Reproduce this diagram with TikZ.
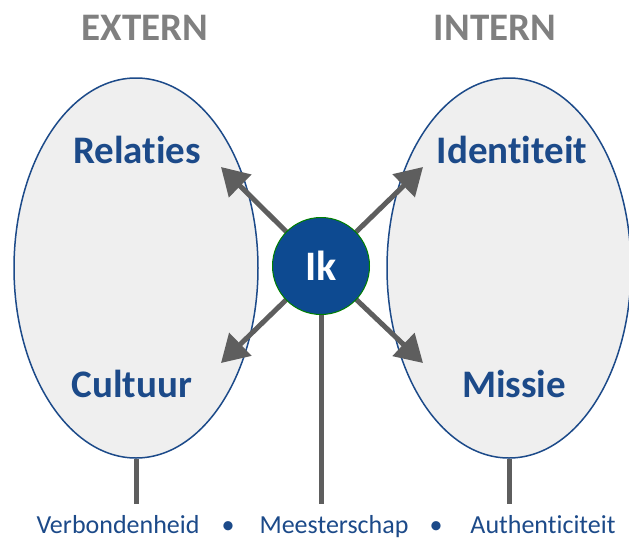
\documentclass[tikz,border=0pt]{standalone}
\usepackage{fontspec}
\setmainfont{Carlito}[Ligatures=NoCommon]
\usetikzlibrary{shapes.geometric, arrows.meta, positioning}

\definecolor{ikblue}{HTML}{0D4A91}
\definecolor{txtblue}{HTML}{1C4A89}
\definecolor{linegray}{HTML}{5E5E5E}
\definecolor{headgray}{HTML}{808080}
\definecolor{ovalfill}{HTML}{EFEFEF}

\begin{document}
\begin{tikzpicture}[
    x=1pt, y=-1pt,
    oval/.style={ellipse, draw=txtblue, fill=ovalfill, line width=1.5pt, minimum width=244pt, minimum height=380pt},
    heading/.style={anchor=base, font=\fontsize{39}{39}\selectfont\bfseries, text=headgray},
    label/.style={anchor=base, font=\fontsize{39}{39}\selectfont\bfseries, text=txtblue},
    value/.style={anchor=base, inner sep=0pt, font=\fontsize{26}{26}\selectfont, text=txtblue},
    stem/.style={draw=linegray, line width=5pt},
    pointer/.style={draw=linegray, line width=5pt, -{Triangle[length=27pt, width=31pt]}}
]
\useasboundingbox (0,0) rectangle (629,541);

% Headings
\node[heading] (extern) at (145,40) {EXTERN};
\node[heading] (intern) at (495,40) {INTERN};

% Ovals
\node[oval] (left) at (136,268) {};
\node[oval] (right) at (509,268) {};

% Oval labels
\node[label] (relaties) at (137,163) {Relaties};
\node[label] (cultuur) at (132,397) {Cultuur};
\node[label] (identiteit) at (512,163) {Identiteit};
\node[label] (missie) at (514,397) {Missie};

% Arrow tips
\coordinate (ikc) at (321,266);
\coordinate (tipRel) at (221,167);
\coordinate (tipCul) at (221,363);
\coordinate (tipIde) at (423,167);
\coordinate (tipMis) at (423,363);
\coordinate (ikfoot) at (321,504);

% Arrows from Ik
\draw[pointer] (ikc) -- (tipRel);
\draw[pointer] (ikc) -- (tipCul);
\draw[pointer] (ikc) -- (tipIde);
\draw[pointer] (ikc) -- (tipMis);

% Bottom values
\node[value] (verbonden) at (118,533) {Verbondenheid};
\node[value] (meester) at (334,533) {Meesterschap};
\node[value] (authentiek) at (543,533) {Authenticiteit};
\node[value] (dotA) at (228,533) {•};
\node[value] (dotB) at (436,533) {•};

% Stems
\draw[stem] (left.south) -- (left.south |- ikfoot);
\draw[stem] (right.south) -- (right.south |- ikfoot);
\draw[stem] (ikc) -- (ikfoot);

% Ik
\node[circle, fill=ikblue, draw=green!50!black, line width=1pt, minimum size=97pt, inner sep=0pt,
      text=white, font=\fontsize{42}{42}\selectfont\bfseries] (ik) at (ikc) {Ik};

\end{tikzpicture}
\end{document}
